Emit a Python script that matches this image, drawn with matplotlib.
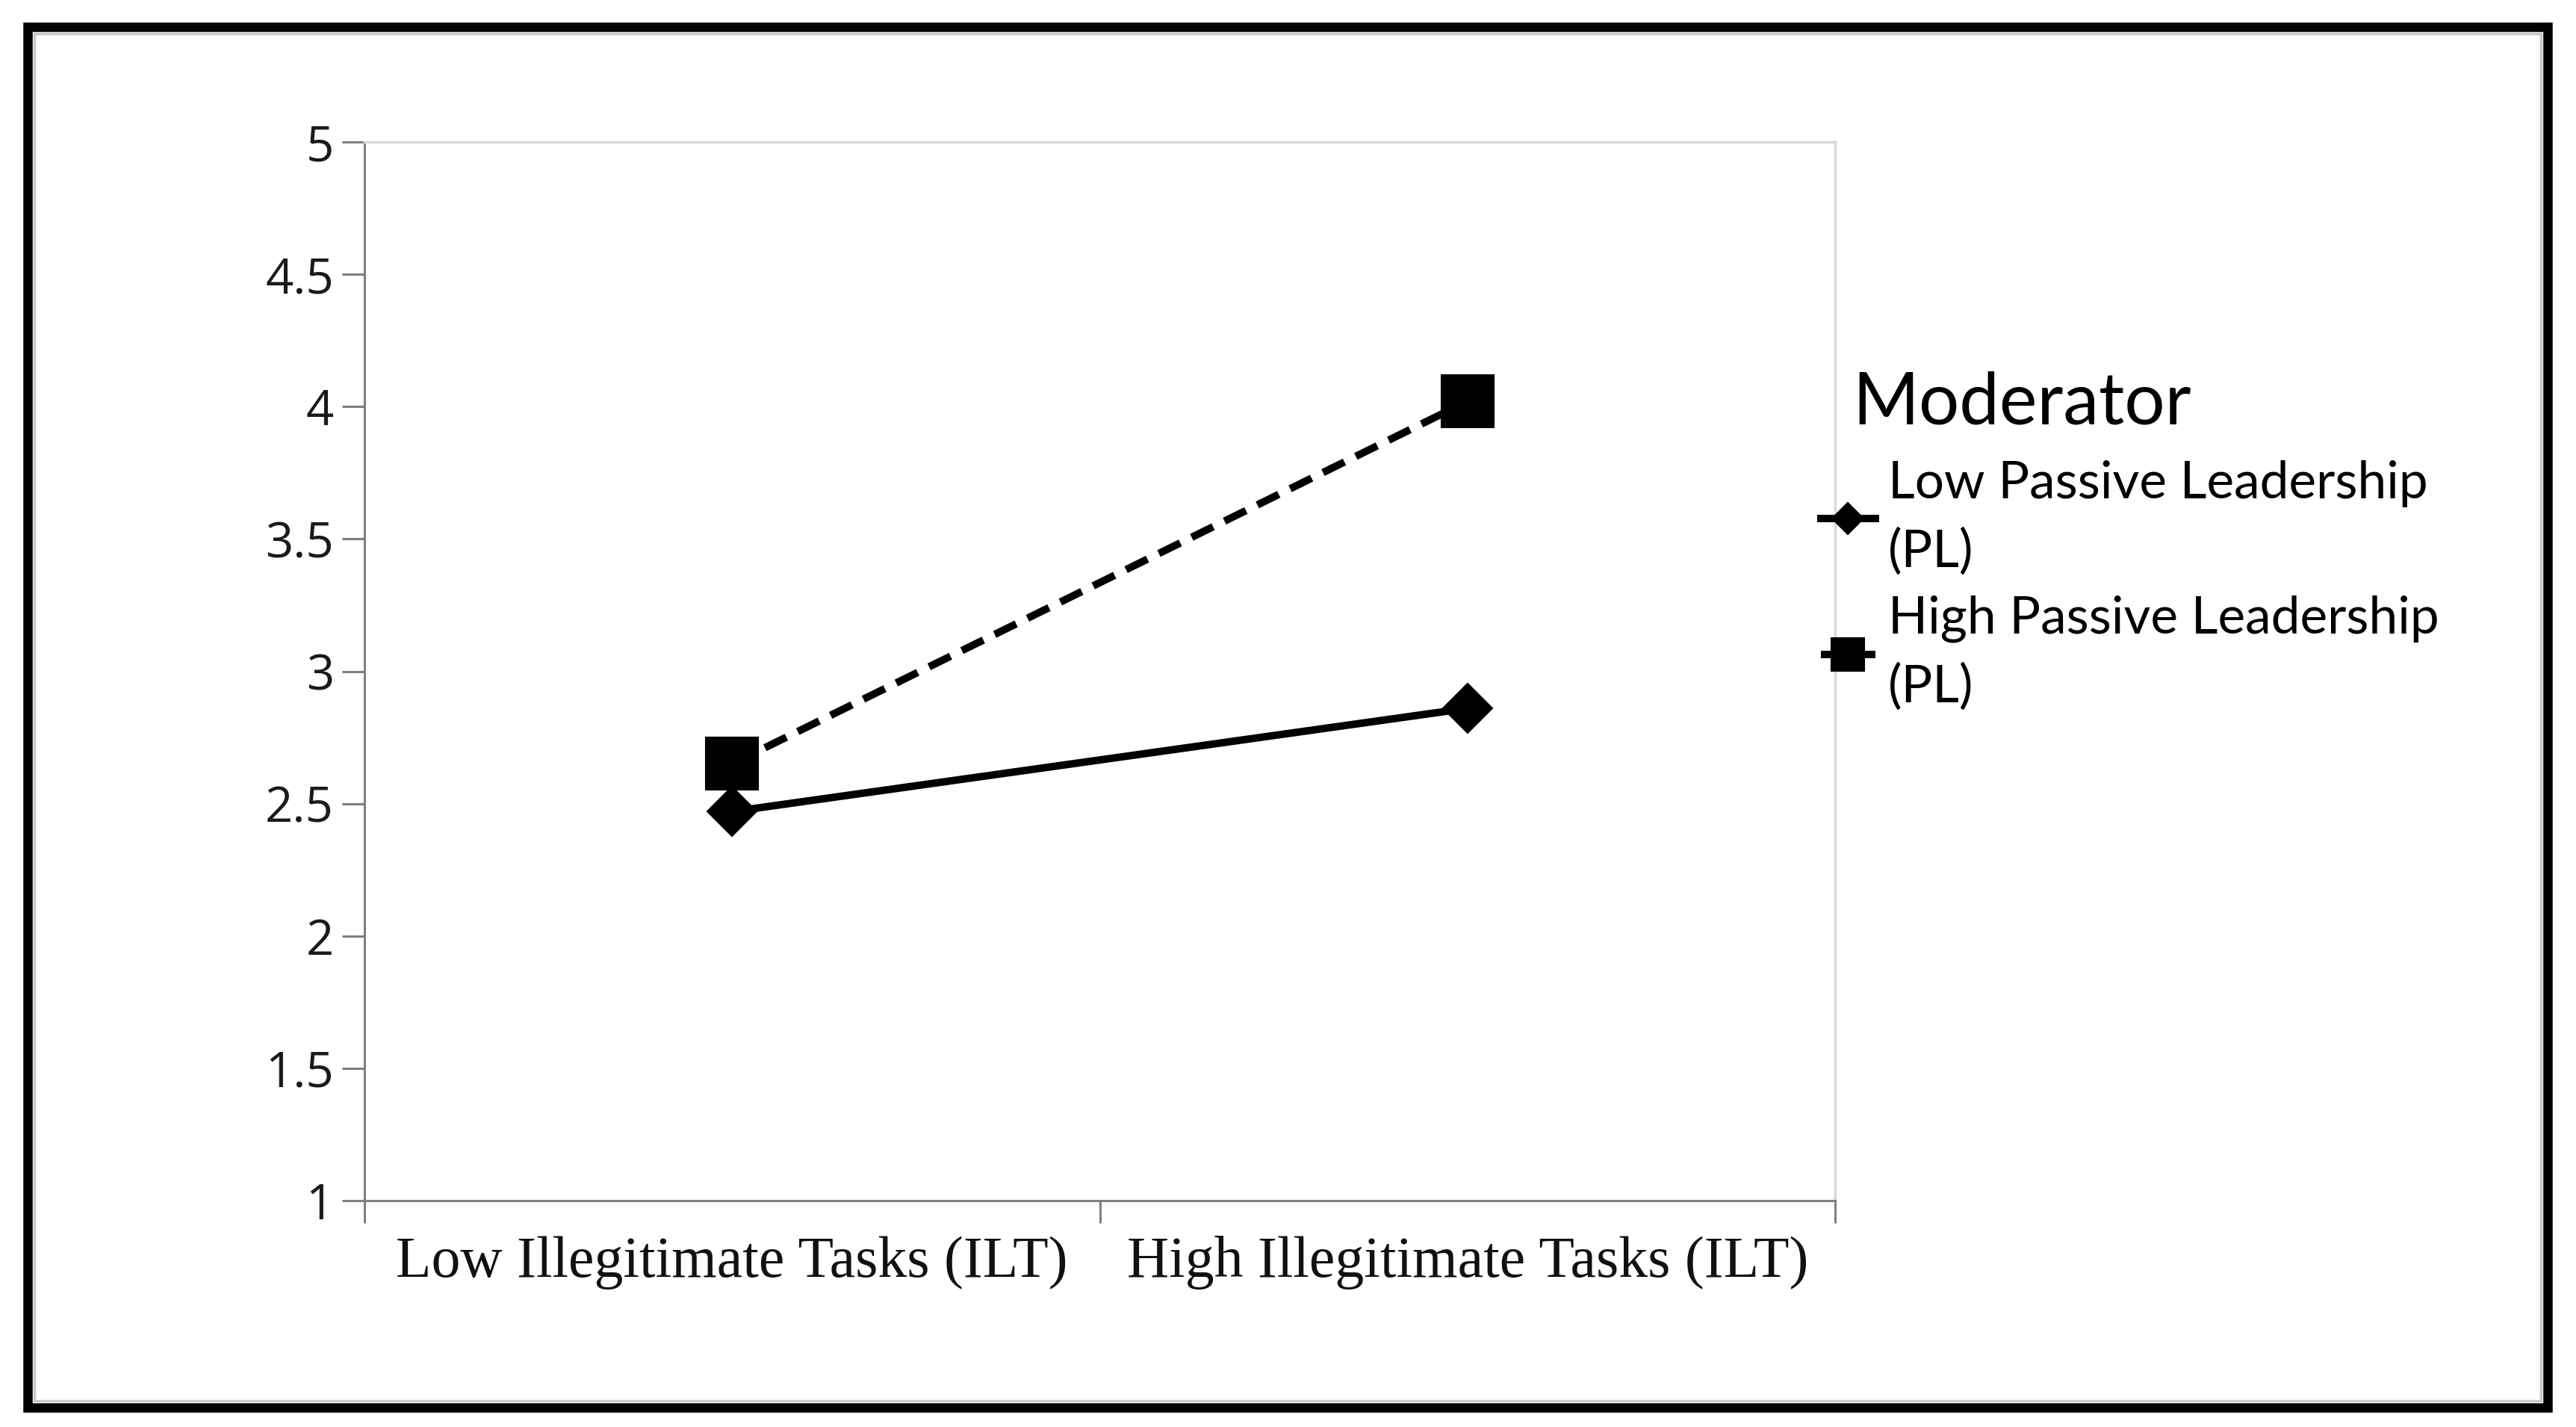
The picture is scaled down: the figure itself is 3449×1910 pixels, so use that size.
import matplotlib
matplotlib.use("Agg")
import matplotlib.pyplot as plt
from matplotlib.patches import Rectangle

# ---- data ----
categories = ["Low Illegitimate Tasks (ILT)", "High Illegitimate Tasks (ILT)"]
cat_pos = [0.25, 0.75]
low_pl = [2.47, 2.86]
high_pl = [2.65, 4.02]
series_labels = ["Low Passive Leadership\n(PL)", "High Passive Leadership\n(PL)"]
legend_title = "Moderator"
yticks = [1, 1.5, 2, 2.5, 3, 3.5, 4, 4.5, 5]
ytick_labels = ["1", "1.5", "2", "2.5", "3", "3.5", "4", "4.5", "5"]

W, H = 3449, 1910
fig = plt.figure(figsize=(W / 100, H / 100), dpi=100)
fig.patch.set_facecolor("white")

# outer frame
fl, ft, fr, fb = 37, 36, 3411, 1884
fig.patches.append(Rectangle((fl / W, 1 - fb / H), (fr - fl) / W, (fb - ft) / H,
                             transform=fig.transFigure, fill=False, edgecolor="black",
                             linewidth=9.0, joinstyle="miter", zorder=10))
fig.patches.append(Rectangle(((fl + 9) / W, 1 - (fb - 9) / H), (fr - fl - 18) / W, (fb - ft - 18) / H,
                             transform=fig.transFigure, fill=False, edgecolor="#c8c8c8",
                             linewidth=2.5, zorder=9))

left, right, top, bottom = 488 / W, 2457 / W, 190 / H, 1607 / H
ax = fig.add_axes([left, 1 - bottom, right - left, bottom - top])

ax.plot(cat_pos, low_pl, color="black", linewidth=7.2, linestyle="-",
        marker="D", markersize=34, markeredgewidth=1.5, label=series_labels[0], zorder=3)
ax.plot(cat_pos, high_pl, color="black", linewidth=7.2, linestyle=(0, (3.2, 1.7)),
        marker="s", markersize=50, markeredgewidth=1.5, label=series_labels[1], zorder=4)

ax.set_xlim(0, 1)
ax.set_ylim(1, 5)

ax.set_yticks(yticks)
ax.set_yticklabels(ytick_labels, fontfamily="Open Sans", fontsize=47, color="#1a1a1a")
ax.tick_params(axis="y", which="major", direction="out", length=21.6, width=2.2,
               color="#7f7f7f", pad=8)

ax.set_xticks([0, 0.5, 1])
ax.set_xticklabels([])
ax.set_xticks(cat_pos, minor=True)
ax.set_xticklabels(categories, minor=True, fontfamily="Liberation Serif", fontsize=56,
                   color="#111111")
ax.tick_params(axis="x", which="major", direction="out", length=21.6, width=2.2,
               color="#7f7f7f")
ax.tick_params(axis="x", which="minor", length=0, pad=34)

for s in ["left", "bottom"]:
    ax.spines[s].set_color("#7f7f7f")
    ax.spines[s].set_linewidth(2.2)
for s in ["top", "right"]:
    ax.spines[s].set_color("#d9d9d9")
    ax.spines[s].set_linewidth(2.5)

leg = ax.legend(loc="upper left", bbox_to_anchor=(2438 / W, 1 - 497 / H),
                bbox_transform=fig.transFigure, frameon=False,
                title=legend_title, alignment="left",
                prop={"family": "Lato", "size": 50},
                title_fontproperties={"family": "Lato", "size": 69},
                markerscale=0.63, handlelength=1.05, handletextpad=0.25,
                borderpad=0, borderaxespad=0, labelspacing=0.38)
for t in leg.get_texts():
    t.set_linespacing(1.52)
leg._legend_box.sep = 22
leg.get_title().set_x(42)

fig.savefig("out.png", dpi=100, facecolor="white")
